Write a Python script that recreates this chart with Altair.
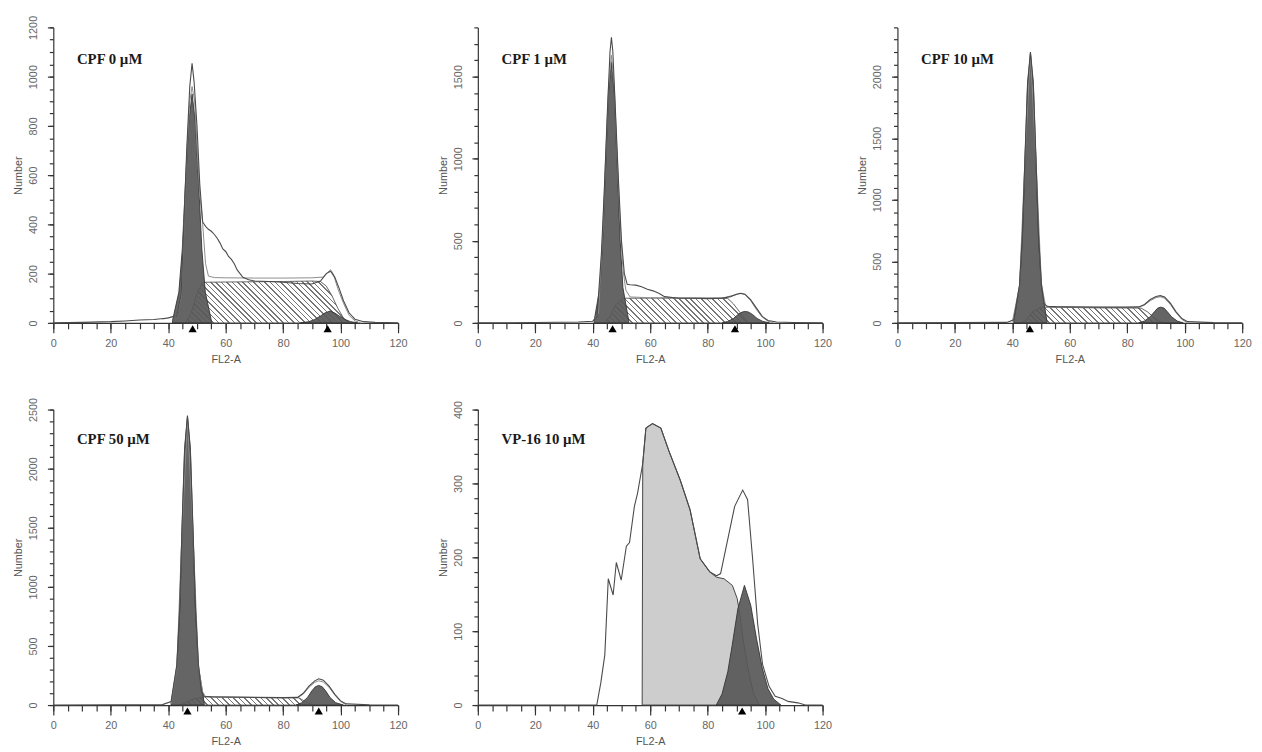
import altair as alt
import pandas as pd

# ---------------- data ----------------
# Panel 1: CPF 0 µM
P1_RAW_X = [0, 10, 20, 25, 30, 35, 40, 43, 44.5, 45.5, 46.5, 47.5, 48.3, 49, 50, 51, 52, 53, 54, 55, 56, 57, 58, 59, 60, 61, 62, 63, 64, 65, 66, 68, 70, 75, 80, 85, 90, 93, 95, 96.5, 98, 99.5, 101, 103, 105, 108, 112, 120]
P1_RAW_Y = [0, 2, 5, 8, 12, 14, 20, 30, 120, 420, 720, 960, 1054, 980, 800, 560, 410, 392, 380, 372, 360, 345, 325, 300, 290, 270, 258, 240, 215, 200, 185, 175, 170, 168, 165, 160, 158, 170, 200, 210, 185, 140, 90, 40, 15, 5, 2, 0]
P1_ENV_X = [38, 43, 44.5, 45.5, 46.5, 47.5, 48.3, 49.2, 50, 51, 52, 53, 54, 56, 60, 70, 80, 90, 94, 95.5, 96.5, 97.5, 99, 101, 103, 105, 107]
P1_ENV_Y = [15, 30, 110, 400, 700, 900, 960, 900, 720, 520, 400, 240, 190, 184, 183, 182, 182, 183, 186, 205, 216, 198, 140, 80, 30, 8, 0]
P1_S_X = [46, 48, 50, 52, 60, 70, 80, 90, 93, 95, 97, 99, 101, 103]
P1_S_Y = [0, 40, 120, 165, 166, 167, 168, 170, 168, 150, 110, 60, 20, 0]
P1_G1_X = [41.5, 43.7, 44.9, 46.0, 47.2, 48.3, 49.4, 50.6, 51.7, 52.9, 55]
P1_G1_Y = [10, 125, 300, 565, 820, 930, 820, 565, 300, 125, 10]
P1_G2_X = [86, 89, 91, 93, 94.5, 96.3, 98, 99.5, 101.5, 103.5, 106]
P1_G2_Y = [0, 5, 14, 28, 40, 48, 40, 28, 14, 5, 0]
P1_TRI = [48.5, 95.5]

# Panel 2: CPF 1 µM
P2_RAW_X = [0, 20, 35, 40, 41.5, 43, 44, 45, 46, 46.5, 47, 48, 49, 50, 51, 52, 53, 55, 57, 59, 61, 63, 65, 70, 75, 80, 85, 88, 90, 91.5, 93, 95, 97, 99, 101, 104, 110, 120]
P2_RAW_Y = [0, 2, 5, 10, 40, 420, 800, 1250, 1650, 1740, 1650, 1250, 850, 500, 300, 235, 232, 230, 220, 205, 195, 180, 160, 150, 150, 148, 150, 160, 175, 180, 175, 140, 90, 40, 15, 5, 2, 0]
P2_ENV_X = [40, 42, 43.5, 44.5, 45.5, 46.5, 47.5, 48.5, 49.5, 50.5, 51.5, 53, 60, 70, 80, 86, 89, 91.5, 93, 95, 97, 99, 101, 103]
P2_ENV_Y = [10, 60, 560, 1010, 1440, 1630, 1440, 1010, 620, 330, 200, 158, 153, 152, 152, 155, 168, 179, 172, 135, 80, 35, 10, 0]
P2_S_X = [44, 46, 48, 50.3, 60, 70, 80, 87, 89, 91, 93, 94.5]
P2_S_Y = [0, 40, 110, 150, 151, 151, 150, 149, 115, 70, 25, 0]
P2_G1_X = [40.5, 42.5, 43.5, 44.5, 45.5, 46.5, 47.5, 48.5, 49.5, 50.5, 52.5]
P2_G1_Y = [15, 215, 515, 965, 1400, 1590, 1400, 965, 515, 215, 15]
P2_G2_X = [85, 87, 89, 90.5, 92, 93.1, 94.2, 95.7, 97.2, 99.2, 101.5]
P2_G2_Y = [0, 9, 27, 50, 66, 70, 66, 50, 27, 9, 0]
P2_TRI = [46.9, 89.5]

# Panel 3: CPF 10 µM
P3_RAW_X = [0, 20, 38, 40.5, 42.5, 43.5, 44.4, 45.3, 46.3, 47.3, 48.2, 49.1, 50.1, 51, 52, 55, 60, 70, 80, 84, 86, 88, 90, 91.5, 93, 95, 97, 99, 101, 110, 120]
P3_RAW_Y = [0, 2, 4, 25, 310, 720, 1350, 1950, 2200, 1950, 1350, 720, 320, 160, 135, 132, 130, 128, 128, 130, 150, 190, 215, 221, 210, 160, 90, 35, 10, 2, 0]
P3_ENV_X = [40, 42.5, 44.4, 46.3, 48.2, 50.1, 51.5, 53, 60, 70, 80, 84, 86, 88, 90, 91.5, 93, 95, 97, 99, 101]
P3_ENV_Y = [10, 300, 1340, 2195, 1340, 320, 145, 130, 128, 126, 126, 128, 145, 180, 205, 212, 200, 150, 82, 28, 0]
P3_S_X = [43, 45, 47, 50, 60, 70, 80, 84.8, 87, 89, 91, 92.8]
P3_S_Y = [0, 30, 90, 128, 125, 122, 121, 120, 90, 50, 15, 0]
P3_G1_X = [40.5, 42.5, 43.5, 44.4, 45.3, 46.3, 47.3, 48.2, 49.1, 50.1, 52]
P3_G1_Y = [20, 300, 700, 1330, 1930, 2190, 1930, 1330, 700, 300, 20]
P3_G2_X = [84, 86, 88, 89.5, 90.6, 91.7, 92.8, 93.9, 95.4, 97.4, 99.5]
P3_G2_Y = [0, 15, 50, 92, 120, 128, 120, 92, 50, 15, 0]
P3_TRI = [46.1]

# Panel 4: CPF 50 µM
P4_RAW_X = [0, 20, 38, 41, 43, 44, 44.8, 45.7, 46.7, 47.7, 48.6, 49.5, 50.5, 51.5, 52.5, 55, 60, 70, 80, 85, 87, 89, 91, 92.4, 94, 96, 98, 100, 102, 110, 120]
P4_RAW_Y = [0, 2, 4, 30, 340, 820, 1500, 2170, 2450, 2170, 1500, 820, 350, 120, 75, 70, 68, 65, 63, 65, 100, 160, 205, 222, 210, 160, 90, 35, 10, 2, 0]
P4_ENV_X = [41, 43, 44.8, 46.7, 48.6, 50.5, 52, 53, 60, 70, 80, 85, 87, 89, 91, 92.4, 94, 96, 98, 100, 102]
P4_ENV_Y = [10, 320, 1470, 2420, 1470, 330, 110, 72, 68, 64, 62, 63, 92, 150, 192, 205, 195, 150, 85, 30, 0]
P4_S_X = [44, 46, 48, 52.4, 60, 70, 80, 85.5, 87, 88.5, 90.6]
P4_S_Y = [0, 20, 45, 69, 66, 64, 62, 61, 40, 20, 0]
P4_G1_X = [41, 43, 44, 44.8, 45.7, 46.7, 47.7, 48.6, 49.5, 50.5, 52.5]
P4_G1_Y = [20, 330, 800, 1480, 2150, 2440, 2150, 1480, 800, 330, 20]
P4_G2_X = [84.5, 86.5, 88.5, 90, 91.2, 92.4, 93.6, 94.8, 96.3, 98.3, 101]
P4_G2_Y = [0, 20, 65, 120, 155, 166, 155, 120, 65, 20, 0]
P4_TRI = [46.7, 92.4]

# Panel 5: VP-16 10 µM
P5_RAW_X = [0, 38, 41.4, 42.8, 44.2, 45.4, 47.1, 48.2, 49.9, 51.7, 52.8, 54.5, 55.6, 57.4, 58.5, 60.8, 63.7, 66.5, 70.5, 73.9, 77.4, 80.8, 83.1, 84.5, 86.5, 89.4, 92.2, 93.9, 95.6, 97.4, 99.1, 101.4, 103.5, 105.9, 108, 111.4, 114, 120]
P5_RAW_Y = [0, 0, 0, 30, 68, 171, 149, 193, 169, 215, 220, 269, 287, 327, 375, 381, 375, 344, 304, 264, 198, 180, 175, 178, 215, 269, 291, 278, 200, 110, 55, 25, 12, 9, 5, 3, 0, 0]
P5_LIGHT_X = [57.2, 57.4, 58.5, 60.8, 63.7, 66.5, 70.5, 73.9, 77.4, 80.8, 83.1, 85.7, 88.6, 90.3, 91.5, 92.5, 94, 96, 98]
P5_LIGHT_Y = [0, 327, 375, 381, 375, 344, 304, 264, 198, 180, 173, 171, 162, 144, 115, 85, 50, 15, 0]
P5_G2_X = [83, 85, 87, 88.5, 90.5, 92.8, 95, 97, 99, 101, 103, 105.5]
P5_G2_Y = [0, 15, 45, 80, 130, 162, 135, 90, 50, 22, 8, 0]
P5_TRI = [92]

LABELS = ["CPF 0 \u00b5M", "CPF 1 \u00b5M", "CPF 10 \u00b5M", "CPF 50 \u00b5M", "VP-16 10 \u00b5M"]
Y_MAX = [1200, 1800, 2400, 2500, 400]
Y_MAJOR = [200, 500, 500, 500, 100]
Y_MINOR = [50, 100, 100, 100, 20]
X_MAJOR = list(range(0, 121, 20))
X_MINOR = list(range(0, 121, 5))

# ---------------- styling ----------------
PW, PH = 350, 300
DARK = "#585858"
LINE = "#4a4a4a"
ENV = "#8c8c8c"
AX = "#333333"


def hatch(xs, ys, ymax, step=5.5):
    W = (max(xs) - min(xs)) * PW / 120.0
    H = max(ys) * PH / ymax
    k = H / W
    lam = (1 + k) / (1 + k * k)
    n = max(4, int(round((W + H) / step)))
    stops = []
    for i in range(n):
        a, b, c = i / n, (i + 0.28) / n, (i + 1) / n
        stops += [
            {"offset": a, "color": "#777777"},
            {"offset": b, "color": "#777777"},
            {"offset": b, "color": "#ffffff"},
            {"offset": c, "color": "#ffffff"},
        ]
    return {"gradient": "linear", "x1": 0, "y1": 1, "x2": lam, "y2": 1 - lam * k, "stops": stops}


def make_panel(idx, label, raw, env, s, light, g1, g2, tri, lab_y):
    ymax, major, minor = Y_MAX[idx], Y_MAJOR[idx], Y_MINOR[idx]
    xs = alt.Scale(domain=[0, 120], nice=False, zero=False)
    ys = alt.Scale(domain=[0, ymax], nice=False)

    x_major = alt.Axis(values=X_MAJOR, orient="bottom", tickSize=10, labelPadding=5, format="d",
                       title="FL2-A", titlePadding=5, grid=False, labelFlush=False, labelOverlap=False)
    x_minor = alt.Axis(values=X_MINOR, orient="bottom", tickSize=6, labels=False, domain=False,
                       title=None, grid=False)
    y_major = alt.Axis(values=list(range(0, ymax + 1, major)), orient="left", tickSize=6, format="d",
                       labelAngle=270, labelAlign="center", labelBaseline="bottom",
                       labelPadding=9, title="Number", titlePadding=4, grid=False,
                       labelFlush=False, labelOverlap=False)
    y_minor = alt.Axis(values=list(range(0, ymax + 1, minor)), orient="left", tickSize=4,
                       labels=False, domain=False, title=None, grid=False)

    def enc(ch, xa=None, ya=None):
        return ch.encode(
            x=alt.X("x:Q", scale=xs, axis=xa),
            y=alt.Y("y:Q", scale=ys, axis=ya),
        )

    def df(xv, yv):
        return pd.DataFrame({"x": xv, "y": yv})

    layers = []
    if s is not None:
        layers.append(enc(alt.Chart(df(*s)).mark_area(
            fill=hatch(s[0], s[1], ymax), stroke="#555555", strokeWidth=0.9)))
    if light is not None:
        layers.append(enc(alt.Chart(df(*light)).mark_area(
            fill="#cdcdcd", stroke="#444444", strokeWidth=1)))
    if g1 is not None:
        layers.append(enc(alt.Chart(df(*g1)).mark_area(
            fill=DARK, fillOpacity=0.92, stroke="#333333", strokeWidth=0.9)))
    layers.append(enc(alt.Chart(df(*g2)).mark_area(
        fill=DARK, fillOpacity=0.92, stroke="#333333", strokeWidth=0.9)))
    if env is not None:
        layers.append(enc(alt.Chart(df(*env)).mark_line(color=ENV, strokeWidth=1)))
    layers.append(enc(alt.Chart(df(*raw)).mark_line(color=LINE, strokeWidth=1.1), x_minor, y_minor))
    layers.append(enc(alt.Chart(df(tri, [0] * len(tri))).mark_point(
        shape="triangle-up", filled=True, size=70, color="#000000", opacity=1, yOffset=6),
        x_major, y_major))
    layers.append(alt.Chart(pd.DataFrame({"label": [label]})).mark_text(
        align="left", baseline="alphabetic", font="Liberation Serif",
        fontSize=15, fontWeight="bold", color="#1a1a1a",
    ).encode(x=alt.value(24), y=alt.value(lab_y), text="label:N"))
    return alt.layer(*layers).resolve_axis(x="independent", y="independent").properties(
        width=PW, height=PH)


p1 = make_panel(0, LABELS[0], (P1_RAW_X, P1_RAW_Y), (P1_ENV_X, P1_ENV_Y), (P1_S_X, P1_S_Y), None,
                (P1_G1_X, P1_G1_Y), (P1_G2_X, P1_G2_Y), P1_TRI, 37)
p2 = make_panel(1, LABELS[1], (P2_RAW_X, P2_RAW_Y), (P2_ENV_X, P2_ENV_Y), (P2_S_X, P2_S_Y), None,
                (P2_G1_X, P2_G1_Y), (P2_G2_X, P2_G2_Y), P2_TRI, 37)
p3 = make_panel(2, LABELS[2], (P3_RAW_X, P3_RAW_Y), (P3_ENV_X, P3_ENV_Y), (P3_S_X, P3_S_Y), None,
                (P3_G1_X, P3_G1_Y), (P3_G2_X, P3_G2_Y), P3_TRI, 37)
p4 = make_panel(3, LABELS[3], (P4_RAW_X, P4_RAW_Y), (P4_ENV_X, P4_ENV_Y), (P4_S_X, P4_S_Y), None,
                (P4_G1_X, P4_G1_Y), (P4_G2_X, P4_G2_Y), P4_TRI, 35)
p5 = make_panel(4, LABELS[4], (P5_RAW_X, P5_RAW_Y), None, None, (P5_LIGHT_X, P5_LIGHT_Y),
                None, (P5_G2_X, P5_G2_Y), P5_TRI, 35)

row1 = alt.hconcat(p1, alt.hconcat(p2, p3, spacing=25), spacing=30)
row2 = alt.hconcat(p4, p5, spacing=30)

chart = alt.vconcat(row1, row2, spacing=33).properties(
    padding={"left": 5, "top": 1, "right": 2, "bottom": 2},
    background="white",
).configure_view(stroke=None).configure_axis(
    grid=False,
    labelFont="Liberation Sans", labelFontSize=11, labelColor="#666666",
    titleFont="Liberation Sans", titleFontSize=11, titleFontWeight="normal", titleColor="#555555",
    domainColor=AX, tickColor=AX, domainWidth=1.2, tickWidth=1.2,
)

chart.save("out.html", embed_options={"renderer": "svg", "actions": False})
